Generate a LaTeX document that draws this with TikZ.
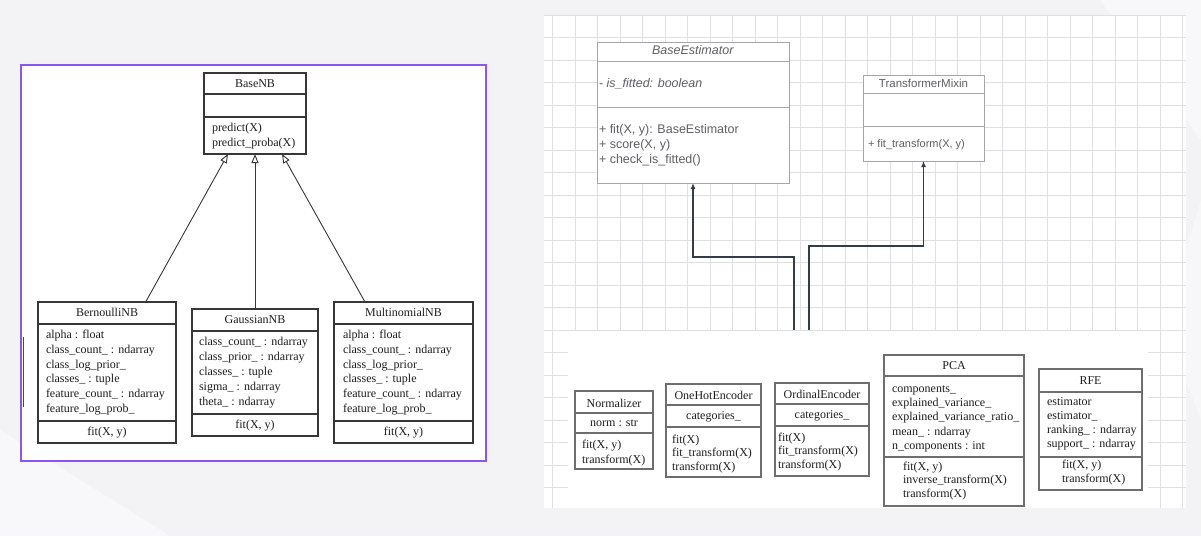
\documentclass[tikz,border=0pt]{standalone}
\usepackage{fontspec}
\setmainfont{Liberation Serif}
\newfontfamily\sansf{Liberation Sans}
\usetikzlibrary{arrows.meta,calc}
\definecolor{purp}{RGB}{138,86,240}
\definecolor{bgc}{RGB}{243,243,246}
\definecolor{gridc}{RGB}{224,224,228}
\definecolor{boxc}{RGB}{55,55,55}
\definecolor{sboxc}{RGB}{110,110,110}
\definecolor{lboxc}{RGB}{165,165,170}
\definecolor{ltext}{RGB}{95,95,100}
\definecolor{arrc}{RGB}{52,60,76}
\definecolor{txtc}{RGB}{30,30,30}
\newcommand{\hdiv}[3]{\draw[#1] ($(#2.north west)+(0,#3)$) -- ($(#2.north east)+(0,#3)$);}
\begin{document}
\begin{tikzpicture}[x=1pt,y=-1pt,
  nbox/.style={draw=boxc, line width=1.1pt, fill=white, inner sep=0, outer sep=0, anchor=north west},
  ndiv/.style={boxc, line width=1.1pt},
  ebox/.style={draw=lboxc, line width=0.8pt, fill=white, inner sep=0, outer sep=0, anchor=north west},
  ediv/.style={lboxc, line width=0.8pt},
  bbox/.style={draw=sboxc, line width=1.6pt, fill=white, inner sep=0, outer sep=0, anchor=north west},
  bdiv/.style={sboxc, line width=1.6pt},
  ser/.style={inner sep=0, outer sep=0, text=txtc, font=\fontsize{12}{14.8}\selectfont},
  lines/.style={ser, align=left, anchor=north west},
  hdr/.style={ser, anchor=base},
  sans/.style={inner sep=0, outer sep=0, text=ltext, font=\sansf\fontsize{12.5}{15}\selectfont},
  gridline/.style={gridc, line width=0.6pt},
  inh/.style={-{Triangle[open,length=9pt,width=7pt]}, draw=boxc, line width=0.9pt},
  dep/.style={-{Latex[length=6pt,width=5pt]}, draw=arrc, line width=1.4pt}]
\useasboundingbox (0,0) rectangle (1201,536);
\fill[bgc] (0,0) rectangle (1201,536);
\fill[white, opacity=0.45] (0,536) -- (0,430) -- (170,536) -- cycle;
\fill[white, opacity=0.45] (1100,0) -- (1201,0) -- (1201,140) -- cycle;
\fill[white, opacity=0.35] (1186,250) -- (1201,200) -- (1201,420) -- (1186,380) -- cycle;

% ---------------- left panel ----------------
\draw[purp, line width=2pt, fill=white] (21,65) rectangle (486,461);
\draw[purp!60!black, line width=1.5pt] (23.5,337) -- (23.5,407);

\node[nbox, minimum width=102pt, minimum height=81pt] (basenb) at (204,73) {};
\hdiv{ndiv}{basenb}{21}
\hdiv{ndiv}{basenb}{44}
\node[hdr] (basenbt) at (255,87) {BaseNB};
\node[lines, font=\fontsize{12}{15}\selectfont] (basenbm) at (212,121) {\strut predict(X)\\predict\_proba(X)};

\node[nbox, minimum width=138pt, minimum height=141pt] (bern) at (38,302) {};
\hdiv{ndiv}{bern}{22}
\hdiv{ndiv}{bern}{119}
\node[hdr] (bernt) at (107,316) {BernoulliNB};
\node[lines] (berna) at (46,328.1) {\strut alpha : float\\class\_count\_ : ndarray\\class\_log\_prior\_\\classes\_ : tuple\\feature\_count\_ : ndarray\\feature\_log\_prob\_};
\node[hdr] (bernm) at (107,435.5) {fit(X, y)};

\node[nbox, minimum width=126pt, minimum height=127pt] (gaus) at (192,309) {};
\hdiv{ndiv}{gaus}{22}
\hdiv{ndiv}{gaus}{105}
\node[hdr] (gaust) at (255,323) {GaussianNB};
\node[lines, font=\fontsize{12}{15}\selectfont] (gausa) at (199,335) {\strut class\_count\_ : ndarray\\class\_prior\_ : ndarray\\classes\_ : tuple\\sigma\_ : ndarray\\theta\_ : ndarray};
\node[hdr] (gausm) at (255,428.5) {fit(X, y)};

\node[nbox, minimum width=139pt, minimum height=141pt] (multi) at (334,302) {};
\hdiv{ndiv}{multi}{22}
\hdiv{ndiv}{multi}{119}
\node[hdr] (multit) at (403.5,316) {MultinomialNB};
\node[lines] (multia) at (343,328.1) {\strut alpha : float\\class\_count\_ : ndarray\\class\_log\_prior\_\\classes\_ : tuple\\feature\_count\_ : ndarray\\feature\_log\_prob\_};
\node[hdr] (multim) at (403.5,435.5) {fit(X, y)};

\draw[inh] ($(bern.north west)!0.78!(bern.north east)$) -- ($(basenb.south west)!0.235!(basenb.south east)$);
\draw[inh] (gaus.north) -- (basenb.south);
\draw[inh] ($(multi.north west)!0.223!(multi.north east)$) -- ($(basenb.south west)!0.765!(basenb.south east)$);

% ---------------- right panel ----------------
\fill[white] (544,15) rectangle (1186,508);
\foreach \i in {0,...,28} { \draw[gridline] ({552.5+22.5*\i},15) -- ({552.5+22.5*\i},508); }
\foreach \j in {0,...,21} { \draw[gridline] (544,{15+22.5*\j}) -- (1186,{15+22.5*\j}); }
\fill[white] (568,331) rectangle (1148,508);

\node[ebox, minimum width=192pt, minimum height=141pt] (be) at (597,42) {};
\hdiv{ediv}{be}{19}
\hdiv{ediv}{be}{65}
\node[sans, anchor=base] (bet) at (693,54.5) {\textit{BaseEstimator}};
\node[sans, anchor=base west] (bea) at (599,87.5) {- \textit{is\_fitted: boolean}};
\node[sans, align=left, anchor=north west] (bem) at (599,122.6) {\strut + fit(X, y): BaseEstimator\\+ score(X, y)\\+ check\_is\_fitted()};

\node[ebox, minimum width=121pt, minimum height=86pt] (tm) at (863,75) {};
\hdiv{ediv}{tm}{18}
\hdiv{ediv}{tm}{51}
\node[sans, anchor=base, font=\sansf\fontsize{11.5}{14}\selectfont] (tmt) at (923.5,87) {TransformerMixin};
\node[sans, anchor=base west, font=\sansf\fontsize{11}{14}\selectfont] (tmm) at (868,147) {+ fit\_transform(X, y)};

\coordinate (c1) at (794,330);
\coordinate (c2) at (809,330);
\draw[dep] (c1) -- ++(0,-73) -| (be.south);
\draw[dep] (c2) -- ++(0,-84) -| (tm.south);

% bottom classes
\node[bbox, minimum width=78pt, minimum height=78pt] (norm) at (575,391) {};
\hdiv{bdiv}{norm}{22}
\hdiv{bdiv}{norm}{42}
\node[hdr] (normt) at (614,407) {Normalizer};
\node[hdr] (norma) at (614,426.5) {norm : str};
\node[lines, font=\fontsize{12}{15}\selectfont] (normm) at (582,438) {\strut fit(X, y)\\transform(X)};

\node[bbox, minimum width=95pt, minimum height=93pt] (ohe) at (666,384) {};
\hdiv{bdiv}{ohe}{21}
\hdiv{bdiv}{ohe}{43}
\node[hdr] (ohet) at (713.5,399) {OneHotEncoder};
\node[hdr] (ohea) at (713.5,419.5) {categories\_};
\node[lines, font=\fontsize{12}{13.5}\selectfont] (ohem) at (672,434) {\strut fit(X)\\fit\_transform(X)\\transform(X)};

\node[bbox, minimum width=94pt, minimum height=93pt] (ord) at (775,383) {};
\hdiv{bdiv}{ord}{21}
\hdiv{bdiv}{ord}{43}
\node[hdr] (ordt) at (822,398) {OrdinalEncoder};
\node[hdr] (orda) at (822,418.5) {categories\_};
\node[lines, font=\fontsize{12}{13.5}\selectfont] (ordm) at (778,432) {\strut fit(X)\\fit\_transform(X)\\transform(X)};

\node[bbox, minimum width=140pt, minimum height=151pt] (pca) at (884,355) {};
\hdiv{bdiv}{pca}{21}
\hdiv{bdiv}{pca}{102}
\node[hdr] (pcat) at (954,369.5) {PCA};
\node[lines, font=\fontsize{12}{14.25}\selectfont] (pcaa) at (892,382.5) {\strut components\_\\explained\_variance\_\\explained\_variance\_ratio\_\\mean\_ : ndarray\\n\_components : int};
\node[lines, font=\fontsize{12}{13.5}\selectfont] (pcam) at (903,461) {\strut fit(X, y)\\inverse\_transform(X)\\transform(X)};

\node[bbox, minimum width=103pt, minimum height=121pt] (rfe) at (1039,369) {};
\hdiv{bdiv}{rfe}{23}
\hdiv{bdiv}{rfe}{88}
\node[hdr] (rfet) at (1090.5,384.5) {RFE};
\node[lines, font=\fontsize{12}{14}\selectfont] (rfea) at (1047,395.7) {\strut estimator\\estimator\_\\ranking\_ : ndarray\\support\_ : ndarray};
\node[lines, font=\fontsize{12}{14}\selectfont] (rfem) at (1062,458.7) {\strut fit(X, y)\\transform(X)};
\end{tikzpicture}
\end{document}
